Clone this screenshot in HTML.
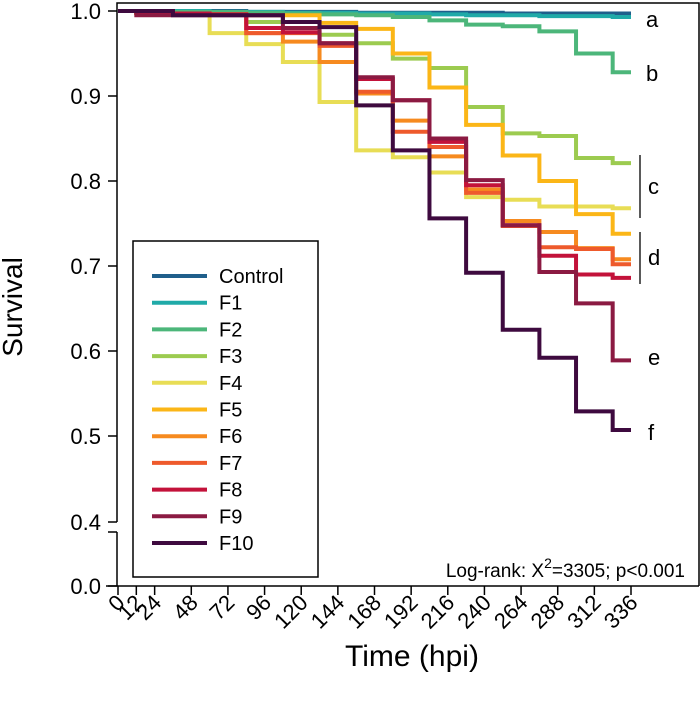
<!DOCTYPE html>
<html><head><meta charset="utf-8"><style>
html,body{margin:0;padding:0;background:#fff;}
svg{display:block;font-family:"Liberation Sans",Arial,sans-serif;}
</style></head><body>
<svg id="chart" width="700" height="705" viewBox="0 0 700 705">
<g id="marks"></g>
<g id="axes"></g>
<g id="legend"></g>
<text x="15" y="300" transform="rotate(-90 22 300)" font-size="28" text-anchor="middle">Survival</text>
<text x="412" y="666" font-size="30" text-anchor="middle">Time (hpi)</text>
<text x="685" y="577" font-size="19" text-anchor="end">Log-rank: X<tspan dy="-9" font-size="14">2</tspan><tspan dy="9">=3305; p&lt;0.001</tspan></text>
<g font-size="22">
<text x="646" y="27">a</text>
<text x="646" y="81">b</text>
<text x="648" y="194">c</text>
<text x="648" y="265">d</text>
<text x="648" y="365">e</text>
<text x="648" y="440">f</text>
<line x1="640" y1="155" x2="640" y2="218" stroke="#000" stroke-width="1.3"/>
<line x1="640" y1="232" x2="640" y2="284" stroke="#000" stroke-width="1.3"/>
</g>
</svg>
<script>
const stepTimes=[0,12,36,60,84,108,132,156,180,204,228,252,276,300,324];
const endTime=336;
const seriesNames=["Control","F1","F2","F3","F4","F5","F6","F7","F8","F9","F10"];
const control=[1,1,1,1,0.999,0.999,0.999,0.998,0.998,0.998,0.998,0.997,0.997,0.997,0.997];
const f1=[1,1,1,0.999,0.999,0.998,0.998,0.997,0.997,0.996,0.995,0.995,0.994,0.994,0.993];
const f2=[1,1,0.999,0.999,0.998,0.997,0.996,0.995,0.993,0.989,0.984,0.982,0.976,0.95,0.928];
const f3=[1,0.998,0.997,0.996,0.987,0.987,0.972,0.962,0.944,0.933,0.887,0.856,0.853,0.827,0.821];
const f4=[1,0.997,0.997,0.974,0.961,0.94,0.893,0.836,0.828,0.81,0.781,0.778,0.77,0.77,0.768];
const f5=[1,0.998,0.997,0.996,0.995,0.995,0.986,0.979,0.95,0.91,0.866,0.83,0.8,0.761,0.738];
const f6=[1,0.998,0.997,0.996,0.974,0.964,0.94,0.903,0.871,0.829,0.79,0.753,0.74,0.721,0.708];
const f7=[1,0.998,0.997,0.996,0.974,0.974,0.959,0.905,0.858,0.84,0.786,0.747,0.722,0.72,0.702];
const f8=[1,0.998,0.997,0.996,0.98,0.975,0.962,0.92,0.895,0.846,0.795,0.748,0.712,0.69,0.686];
const f9=[1,0.995,0.995,0.995,0.995,0.98,0.962,0.922,0.895,0.85,0.801,0.748,0.693,0.656,0.589];
const f10=[1,1,0.995,0.995,0.995,0.987,0.981,0.889,0.836,0.756,0.692,0.625,0.592,0.529,0.507];
const xTicks=[0,12,24,48,72,96,120,144,168,192,216,240,264,288,312,336];
const yTicks=[1.0,0.9,0.8,0.7,0.6,0.5];
const yTickLabels=["1.0","0.9","0.8","0.7","0.6","0.5"];

const colors=["#1f5f8b","#20aaa8","#4cb67a","#9ccb50","#e8dd55","#fbb617","#f68a1f","#ee5a2c","#c3123a","#8b1a42","#3e0a3f"];
const allSeries=[control,f1,f2,f3,f4,f5,f6,f7,f8,f9,f10];
const NS="http://www.w3.org/2000/svg";
function xs(t){return 118+t*(631-118)/336;}
function ys(v){return 11+(1-v)*850;}
function mk(tag,attrs,parent){const e=document.createElementNS(NS,tag);for(const k in attrs)e.setAttribute(k,attrs[k]);parent.appendChild(e);return e;}
const marks=document.getElementById('marks');
allSeries.forEach((s,i)=>{
  let d="M"+xs(stepTimes[0])+","+ys(s[0]);
  for(let k=1;k<s.length;k++){d+=" H"+xs(stepTimes[k])+" V"+ys(s[k]);}
  d+=" H"+xs(endTime);
  const p=mk('path',{d:d,fill:'none',stroke:colors[i],'stroke-width':4,'stroke-linejoin':'miter'},marks);
  
  
});
const axes=document.getElementById('axes');
const fr=mk('path',{d:"M117,522 V3 H699 V586",fill:'none',stroke:'#000','stroke-width':1.5},axes);


const yl2=mk('line',{x1:117,y1:532,x2:117,y2:586,stroke:'#000','stroke-width':1.5},axes);


const xl=mk('line',{x1:106,y1:586,x2:699,y2:586,stroke:'#000','stroke-width':1.5},axes);


yTicks.forEach((v,i)=>{
  const y=ys(v);
  const t=mk('line',{x1:108,y1:y,x2:117,y2:y,stroke:'#000','stroke-width':1.5},axes);
  
  
  const l=mk('text',{x:101,y:y+8,'font-size':22,'text-anchor':'end'},axes);
  l.textContent=yTickLabels[i];
  
  
});
[[522,"0.4"],[586,"0.0"]].forEach(([y,lab])=>{
  const t=mk('line',{x1:108,y1:y,x2:117,y2:y,stroke:'#000','stroke-width':1.5},axes);
  
  
  const l=mk('text',{x:101,y:y+8,'font-size':22,'text-anchor':'end'},axes);
  l.textContent=lab;
  
  
});
const br=mk('line',{x1:108,y1:532,x2:117,y2:532,stroke:'#000','stroke-width':1.5},axes);


xTicks.forEach(t=>{
  const x=xs(t);
  const tk=mk('line',{x1:x,y1:586,x2:x,y2:595,stroke:'#000','stroke-width':1.5},axes);
  
  
  const l=mk('text',{x:x+8,y:604,'font-size':22,'text-anchor':'end',transform:'rotate(-45 '+(x+8)+' 604)'},axes);
  l.textContent=String(t);
  
  
});
const lg=document.getElementById('legend');
const box=mk('rect',{x:133,y:241,width:185,height:336,fill:'#fff',stroke:'#000','stroke-width':1.5},lg);


seriesNames.forEach((n,i)=>{
  const y=276+i*26.7;
  const g=mk('g',{},lg);
  
  
  mk('line',{x1:152,y1:y,x2:207,y2:y,stroke:colors[i],'stroke-width':4},g);
  const t=mk('text',{x:219,y:y+7,'font-size':20},g);
  t.textContent=n;
});
</script>
</body></html>
